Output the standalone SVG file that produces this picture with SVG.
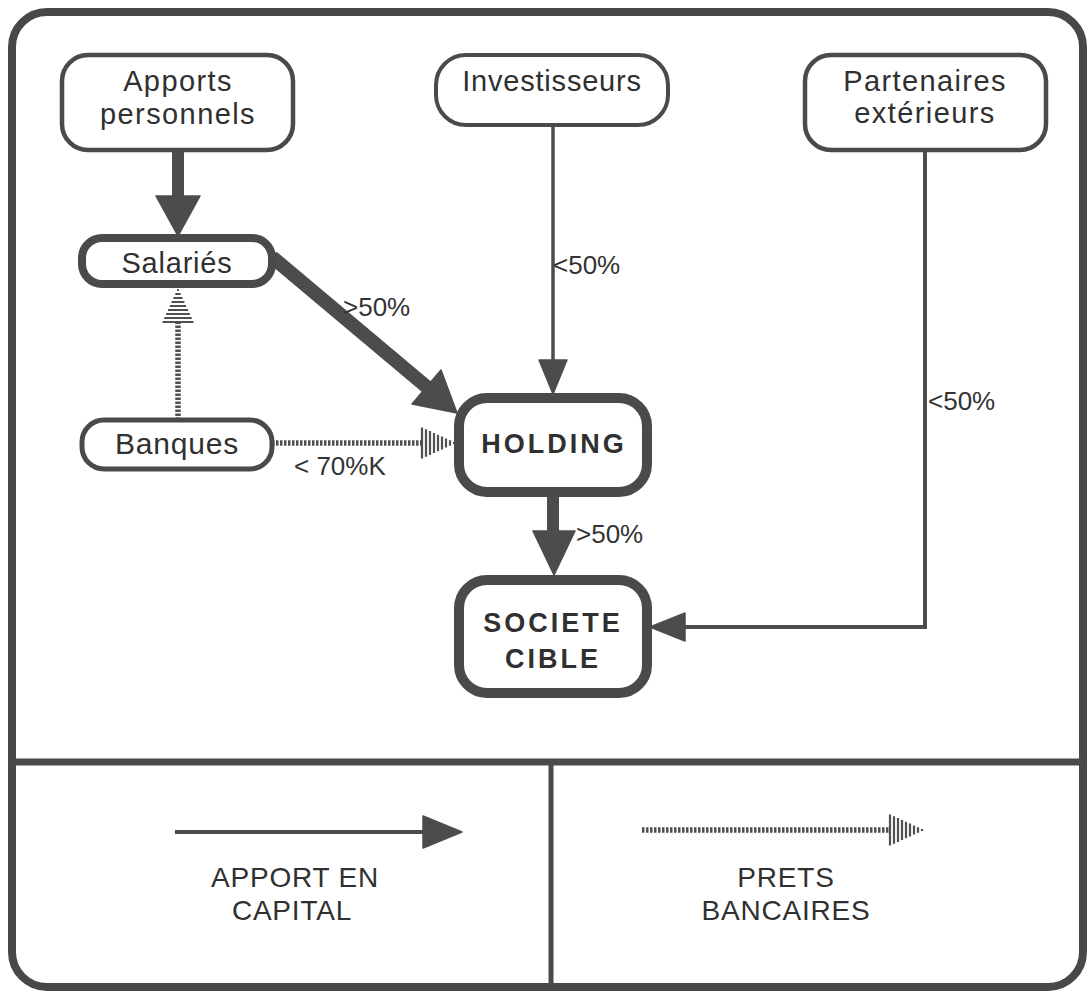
<svg xmlns="http://www.w3.org/2000/svg" xmlns:xlink="http://www.w3.org/1999/xlink" width="1090" height="992" viewBox="0 0 1090 992">
<style>
.frame{fill:none;stroke:#484848;stroke-width:8}
.div{fill:none;stroke:#4a4a4a}
.box{fill:#fff;stroke:#4a4a4a}
.t{font-family:"Liberation Sans",Arial,sans-serif;fill:#303030;text-anchor:middle;letter-spacing:0.8px}
.wide{letter-spacing:1.4px}
.lbl{font-family:"Liberation Sans",Arial,sans-serif;fill:#333;font-size:26px}
.bold{font-weight:bold;letter-spacing:3px}
.line{fill:none;stroke:#4c4c4c}
.head{fill:#4c4c4c;stroke:#4c4c4c;stroke-width:1.5;stroke-linejoin:round}
.dot{fill:none;stroke:#505050;stroke-width:5.5;stroke-dasharray:2.5 1.5}
.stripe{fill:none;stroke:#505050;stroke-width:2.2}
</style>
<defs>
<g id="hhead">
<path class="stripe" d="M1,-15.5V15.5M5,-13.7V13.7M9,-11.9V11.9M13,-10.1V10.1M17,-8.2V8.2M21,-6.4V6.4M25,-4.6V4.6M29,-2.7V2.7M33,-0.9V0.9"/>
</g>
</defs>
<rect width="1090" height="992" fill="#fff"/>
<g id="frame">
<rect class="frame" x="12" y="12" width="1071" height="975" rx="35"/>
<line class="div" x1="12" y1="762" x2="1083" y2="762" stroke-width="7"/>
<line class="div" x1="551" y1="762" x2="551" y2="987" stroke-width="5"/>
</g>
<g id="connectors">
<line class="line" x1="178" y1="150" x2="178" y2="198" stroke-width="12"/>
<polygon class="head" points="156,196 200,196 178,236"/>
<line class="line" x1="272" y1="257" x2="428" y2="388" stroke-width="14"/>
<polygon class="head" points="412,404 441,370 457,413"/>
<text class="lbl" x="343" y="316">&gt;50%</text>
<line class="line" x1="553" y1="125" x2="553" y2="362" stroke-width="3.5"/>
<polygon class="head" points="539,360 567,360 553,394"/>
<text class="lbl" x="553" y="274">&lt;50%</text>
<line class="line" x1="553" y1="493" x2="553" y2="532" stroke-width="12"/>
<polygon class="head" points="533,531 575,531 554,575"/>
<text class="lbl" x="576" y="543">&gt;50%</text>
<path class="line" d="M925,150V627H684" stroke-width="4"/>
<polygon class="head" points="685,613 685,641 650,627"/>
<text class="lbl" x="928" y="410">&lt;50%</text>
<line class="dot" x1="178" y1="420" x2="178" y2="323"/>
<use xlink:href="#hhead" href="#hhead" transform="translate(178,323) rotate(-90)"/>
<line class="dot" x1="272" y1="443" x2="421" y2="443"/>
<use xlink:href="#hhead" href="#hhead" transform="translate(421,443)"/>
<text class="lbl" x="294" y="475">&lt; 70%K</text>
</g>
<g id="node-apports">
<rect class="box" x="62" y="55" width="231" height="95" rx="26" stroke-width="4.5"/>
<text class="t wide" x="178" y="91" font-size="29">Apports</text>
<text class="t wide" x="178" y="124" font-size="29">personnels</text>
</g>
<g id="node-investisseurs">
<rect class="box" x="436" y="55" width="232" height="70" rx="30" stroke-width="4"/>
<text class="t" x="552" y="91" font-size="29">Investisseurs</text>
</g>
<g id="node-partenaires">
<rect class="box" x="805" y="55" width="241" height="95" rx="26" stroke-width="4.5"/>
<text class="t wide" x="925" y="91" font-size="29">Partenaires</text>
<text class="t wide" x="925" y="123" font-size="29">extérieurs</text>
</g>
<g id="node-salaries">
<rect class="box" x="82" y="238" width="190" height="46" rx="20" stroke-width="8"/>
<text class="t" x="177" y="273" font-size="29">Salariés</text>
</g>
<g id="node-banques">
<rect class="box" x="82" y="420" width="190" height="49" rx="22" stroke-width="5"/>
<text class="t" x="177" y="454" font-size="30">Banques</text>
</g>
<g id="node-holding">
<rect class="box" x="459" y="398" width="188" height="94" rx="28" stroke-width="10"/>
<text class="t bold" x="554" y="453" font-size="27">HOLDING</text>
</g>
<g id="node-societe">
<rect class="box" x="459" y="580" width="188" height="113" rx="28" stroke-width="10"/>
<text class="t bold" x="553" y="632" font-size="27">SOCIETE</text>
<text class="t bold" x="553" y="668" font-size="27">CIBLE</text>
</g>
<g id="legend-capital">
<line class="line" x1="175" y1="832" x2="424" y2="832" stroke-width="4"/>
<polygon class="head" points="423,816 423,848 462,832"/>
<text class="t" x="295" y="887" font-size="28" fill="#3a3a3a">APPORT EN</text>
<text class="t" x="292" y="920" font-size="28" fill="#3a3a3a">CAPITAL</text>
</g>
<g id="legend-prets">
<line class="dot" x1="642" y1="830" x2="889" y2="830"/>
<use xlink:href="#hhead" href="#hhead" transform="translate(889,830)"/>
<text class="t" x="786" y="887" font-size="28" fill="#3a3a3a">PRETS</text>
<text class="t" x="786" y="920" font-size="28" fill="#3a3a3a">BANCAIRES</text>
</g>
</svg>
